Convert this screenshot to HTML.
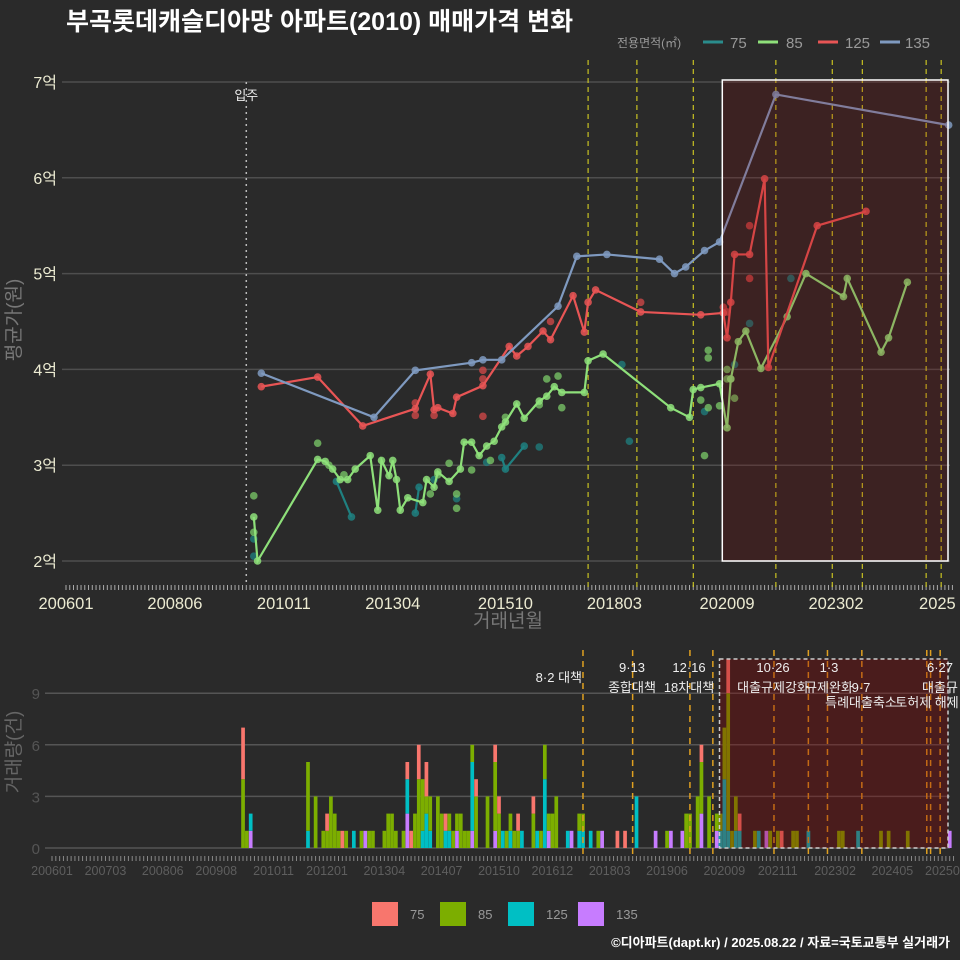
<!DOCTYPE html>
<html><head><meta charset="utf-8">
<style>
html,body{margin:0;padding:0;background:#2a2a2a;}
body{width:960px;height:960px;overflow:hidden;font-family:"Liberation Sans","Noto Sans CJK KR",sans-serif;}
svg{display:block;}
svg text{font-family:"Liberation Sans","Noto Sans CJK KR",sans-serif;}
</style></head>
<body>
<svg id="c" width="960" height="960" xmlns="http://www.w3.org/2000/svg">
<rect width="960" height="960" fill="#2a2a2a"/>
<text x="66" y="30" font-size="25" font-weight="bold" fill="#ffffff">부곡롯데캐슬디아망 아파트(2010) 매매가격 변화</text>
<g>
<text x="617" y="47" font-size="12" fill="#999">전용면적(㎡)</text>
<line x1="703" y1="42" x2="723" y2="42" stroke="#2a8c8c" stroke-width="3"/><text x="730" y="48" font-size="15" fill="#999">75</text>
<line x1="758" y1="42" x2="778" y2="42" stroke="#8ee07a" stroke-width="3"/><text x="786" y="48" font-size="15" fill="#999">85</text>
<line x1="818" y1="42" x2="838" y2="42" stroke="#e85555" stroke-width="3"/><text x="845" y="48" font-size="15" fill="#999">125</text>
<line x1="880" y1="42" x2="900" y2="42" stroke="#7f9ac0" stroke-width="3"/><text x="905" y="48" font-size="15" fill="#999">135</text>
</g>
<g id="gtop"></g>
<g id="gbot"></g>
<text x="20" y="320" font-size="19" fill="#777" transform="rotate(-90 20 320)" text-anchor="middle">평균가(원)</text>
<text x="508" y="627" font-size="19" fill="#777" text-anchor="middle">거래년월</text>
<text x="20" y="752" font-size="19" fill="#666" transform="rotate(-90 20 752)" text-anchor="middle">거래량(건)</text>
<g>
<rect x="372" y="902" width="26" height="24" fill="#F8766D"/><text x="410" y="919" font-size="13" fill="#999">75</text>
<rect x="440" y="902" width="26" height="24" fill="#7CAE00"/><text x="478" y="919" font-size="13" fill="#999">85</text>
<rect x="508" y="902" width="26" height="24" fill="#00BFC4"/><text x="546" y="919" font-size="13" fill="#999">125</text>
<rect x="578" y="902" width="26" height="24" fill="#C77CFF"/><text x="616" y="919" font-size="13" fill="#999">135</text>
</g>
<text x="950" y="947" font-size="13" font-weight="bold" fill="#ffffff" text-anchor="end">©디아파트(dapt.kr) / 2025.08.22 / 자료=국토교통부 실거래가</text>
</svg>
<script>
const m135=[52,82,93,108,111,116,131,136,144,158,162,165,170,174,189,235];
const p135=[3.96,3.5,3.99,4.07,4.1,4.1,4.66,5.18,5.2,5.15,5.0,5.07,5.24,5.33,6.87,6.55];
const m125=[52,67,79,93,97,98,99,103,104,111,118,120,123,127,129,135,138,139,141,153,169,175,176,177,178,182,186,187,200,213];
const p125=[3.82,3.92,3.41,3.59,3.95,3.58,3.6,3.54,3.71,3.83,4.24,4.14,4.24,4.4,4.31,4.77,4.39,4.7,4.83,4.6,4.57,4.59,4.33,4.7,5.2,5.2,5.99,4.02,5.5,5.65];
const m85=[50,51,67,69,71,73,75,77,81,83,84,86,87,88,89,91,95,96,98,99,102,105,106,108,110,112,114,116,117,120,122,126,128,130,132,138,139,143,161,166,167,169,174,176,177,179,181,185,192,197,207,208,217,219,224];
const p85=[2.46,2.0,3.06,3.04,2.96,2.85,2.85,2.96,3.1,2.53,3.05,2.89,3.05,2.85,2.53,2.66,2.61,2.85,2.77,2.93,2.83,2.96,3.24,3.24,3.1,3.2,3.25,3.4,3.45,3.64,3.49,3.67,3.72,3.82,3.76,3.76,4.09,4.16,3.6,3.5,3.79,3.81,3.85,3.39,3.9,4.29,4.4,4.01,4.55,5.0,4.76,4.95,4.18,4.33,4.91];
const m75=[72,76,null,93,94,null,116,117,122];
const p75=[2.83,2.46,null,2.5,2.77,null,3.08,2.96,3.2];
const s75m=[50,50,98,104,112,126,148,150,170,182,193,178];
const s75p=[2.23,2.05,2.85,2.65,3.03,3.19,4.05,3.25,3.56,4.48,4.95,4.05];
const s85m=[50,50,67,70,74,97,99,102,104,104,108,113,117,126,128,131,132,171,171,170,174,171,169,176,177,178,176];
const s85p=[2.68,2.3,3.23,3.0,2.9,2.7,2.9,3.02,2.7,2.55,2.95,3.05,3.5,3.63,3.9,3.93,3.6,4.2,4.12,3.1,3.62,3.6,3.68,3.9,3.9,3.7,4.0];
const s125m=[93,93,98,111,111,111,129,153,182,182,175,176];
const s125p=[3.65,3.52,3.52,3.99,3.9,3.51,4.5,4.7,5.5,4.95,4.65,4.6];
const topTickLabels=["200601","200806","201011","201304","201510","201803","202009","202302","2025"];
const topTickMonths=[0,29,58,87,117,146,176,205,232];
const topYTicks=[2,3,4,5,6,7];
const topEventMonths=[139,152,167,189,204,212,229,233];
const barMonths=[50,51,52,67,69,71,72,73,74,75,76,77,79,81,82,83,84,87,88,89,90,92,93,94,95,96,97,98,99,101,102,103,104,105,106,107,108,109,110,111,114,116,117,118,119,120,121,122,123,126,127,128,129,130,131,132,135,136,138,139,141,143,144,148,150,153,158,161,162,165,166,167,169,170,172,174,175,176,177,178,179,180,184,185,187,188,190,191,194,195,198,206,207,211,217,219,224,235];
const n75 =[3,0,0,0,0,0,1,0,0,0,1,0,0,0,0,0,0,0,0,0,0,0,1,1,0,2,0,2,0,0,0,1,0,0,0,0,0,0,0,1,0,1,1,0,0,0,0,1,0,1,0,0,0,0,0,0,0,0,0,0,0,0,0,1,1,0,0,0,0,0,0,0,0,1,0,0,0,0,2,0,0,1,0,0,0,0,0,1,0,0,0,0,0,0,0,0,0,0];
const n85 =[4,1,0,4,3,1,1,3,2,1,0,1,0,1,0,1,1,1,2,2,1,1,0,0,2,4,3,1,2,3,2,0,1,1,1,2,1,1,1,3,3,4,2,0,1,1,1,1,0,2,0,1,2,1,2,3,0,0,1,1,0,1,0,0,0,0,0,1,0,0,2,2,3,3,3,1,1,3,8,1,2,0,1,0,0,1,1,0,1,1,0,1,1,0,1,1,1,0];
const n125=[0,0,1,1,0,0,0,0,0,0,0,0,1,0,0,0,0,0,0,0,0,0,2,0,0,0,1,2,1,0,0,1,1,0,0,0,0,0,4,0,0,0,0,1,0,1,0,0,1,0,1,0,4,0,0,0,1,0,1,1,1,0,0,0,0,3,0,0,0,0,0,0,0,0,0,0,1,4,1,0,1,1,0,1,0,0,0,0,0,0,1,0,0,1,0,0,0,0];
const n135=[0,0,1,0,0,0,0,0,0,0,0,0,0,0,1,0,0,0,0,0,0,0,2,0,0,0,0,0,0,0,0,0,0,0,1,0,0,0,1,0,0,1,0,0,0,0,0,0,0,0,0,0,0,1,0,0,0,1,0,0,0,0,1,0,0,0,1,0,1,1,0,0,0,2,0,1,0,0,0,0,0,0,0,0,1,0,0,0,0,0,0,0,0,0,0,0,0,1];
const botTickLabels=["200601","200703","200806","200908","201011","201201","201304","201407","201510","201612","201803","201906","202009","202111","202302","202405","202507"];
const botTickMonths=[0,14,29,43,58,72,87,102,117,131,146,161,176,190,205,220,234];
const botYTicks=[0,3,6,9];
const botEventMonths=[139,152,167,173,189,198,203,212,229,230,232.5];

const NS="http://www.w3.org/2000/svg";
function mk(parent,tag,attrs){const e=document.createElementNS(NS,tag);for(const k in attrs)e.setAttribute(k,attrs[k]);parent.appendChild(e);return e;}
const xT=m=>66+m*3.756, yT=p=>561-(p-2)*95.8;
const xB=m=>52+m*3.82, yB=v=>848-v*17.2;
const gTop=document.getElementById('gtop'), gBot=document.getElementById('gbot');

topYTicks.forEach(v=>{
  const l=mk(gTop,'line',{x1:62,x2:950,y1:yT(v),y2:yT(v),stroke:'#4e4e4e','stroke-width':1.5});
  
  
  const t=mk(gTop,'text',{x:57,y:yT(v)+6,'font-size':16,fill:'#ecebd2','text-anchor':'end'});
  t.textContent=v+'억';
  
  
});
for(let m=0;m<=236;m++){mk(gTop,'line',{x1:xT(m),x2:xT(m),y1:585,y2:590,stroke:'#aaa','stroke-width':1});}
topTickLabels.forEach((s,i)=>{
  const t=mk(gTop,'text',{x:xT(topTickMonths[i]),y:609,'font-size':16.5,fill:'#ecebd2','text-anchor':'middle'});
  t.textContent=s;
  
  
});
const mv=mk(gTop,'line',{x1:xT(48),x2:xT(48),y1:82,y2:582,stroke:'#bbb','stroke-width':1.5,'stroke-dasharray':'2,4'});


const mvt=mk(gTop,'text',{x:xT(48),y:100,'font-size':13,fill:'#eee','text-anchor':'middle'});mvt.textContent='입주';


topEventMonths.forEach(m=>{
  const l=mk(gTop,'line',{x1:xT(m),x2:xT(m),y1:60,y2:590,stroke:'#e8e020','stroke-width':1,'stroke-dasharray':'5,4'});
  
  
});
function series(ms,ps,color,name){
  let d='',pen=false;
  ms.forEach((m,i)=>{if(m===null){pen=false;return;}d+=(pen?'L':'M')+xT(m)+','+yT(ps[i]);pen=true;});
  const p=mk(gTop,'path',{d:d,fill:'none',stroke:color,'stroke-width':2.2});
  
  
  ms.forEach((m,i)=>{if(m===null)return;
    const c=mk(gTop,'circle',{cx:xT(m),cy:yT(ps[i]),r:3.8,fill:color,opacity:0.85});
    
    });
}
function scatter(ms,ps,color,name){
  ms.forEach((m,i)=>{const c=mk(gTop,'circle',{cx:xT(m),cy:yT(ps[i]),r:3.8,fill:color,opacity:0.75});
    
    });
}
scatter(s75m,s75p,'#1f8080','75');
series(m75,p75,'#1f8080','75');
scatter(s85m,s85p,'#7ccc6a','85');
series(m85,p85,'#8ee07a','85');
scatter(s125m,s125p,'#d84a4a','125');
series(m125,p125,'#e85555','125');
series(m135,p135,'#7f9ac0','135');
const sh=mk(gTop,'rect',{x:xT(175)-1,y:80,width:948-xT(175)+1,height:481,fill:'rgba(139,0,0,0.19)',stroke:'#ffffff','stroke-width':1.5});



botYTicks.forEach(v=>{
  const l=mk(gBot,'line',{x1:45,x2:950,y1:yB(v),y2:yB(v),stroke:'#555','stroke-width':1.5});
  
  
  const t=mk(gBot,'text',{x:40,y:yB(v)+6,'font-size':15,fill:'#555','text-anchor':'end'});t.textContent=v;
  
  
});
for(let m=0;m<=236;m++){mk(gBot,'line',{x1:xB(m),x2:xB(m),y1:856,y2:861,stroke:'#888','stroke-width':1});}
botTickLabels.forEach((s,i)=>{
  const t=mk(gBot,'text',{x:xB(botTickMonths[i]),y:875,'font-size':12.5,fill:'#5e5e5e','text-anchor':'middle'});t.textContent=s;
  
  
});
const cols=['#C77CFF','#00BFC4','#7CAE00','#F8766D'];
barMonths.forEach((m,i)=>{
  const vals=[n135[i],n125[i],n85[i],n75[i]];let acc=0;
  vals.forEach((v,k)=>{if(!v)return;
    const r=mk(gBot,'rect',{x:xB(m)-1.8,y:yB(acc+v),width:3.7,height:v*17.2,fill:cols[k]});
    
    
    acc+=v;});
});
botEventMonths.forEach(m=>{
  const l=mk(gBot,'line',{x1:xB(m),x2:xB(m),y1:650,y2:858,stroke:'#e0a020','stroke-width':1.5,'stroke-dasharray':'6,5'});
  
  
});
const bs=mk(gBot,'rect',{x:xB(175)-1,y:659,width:948-xB(175)+1,height:189,fill:'rgba(139,0,0,0.33)',stroke:'#cccccc','stroke-width':1.5,'stroke-dasharray':'4,3'});


const ann=[[582,682,'8·2 대책','end'],[632,672,'9·13','middle'],[632,692,'종합대책','middle'],[689,672,'12·16','middle'],[689,692,'18차대책','middle'],[773,672,'10·26','middle'],[773,692,'대출규제강화','middle'],[829,672,'1·3','middle'],[829,692,'규제완화','middle'],[861,692,'9·7','middle'],[861,707,'특례대출축소','middle'],[927,707,'토허제 해제','middle'],[940,672,'6·27','middle'],[940,692,'대출규','middle']];
ann.forEach(a=>{
  const t=mk(gBot,'text',{x:a[0],y:a[1],'font-size':13,fill:'#eeeeee','text-anchor':a[3]});t.textContent=a[2];
  
  
});
</script>
</body></html>
